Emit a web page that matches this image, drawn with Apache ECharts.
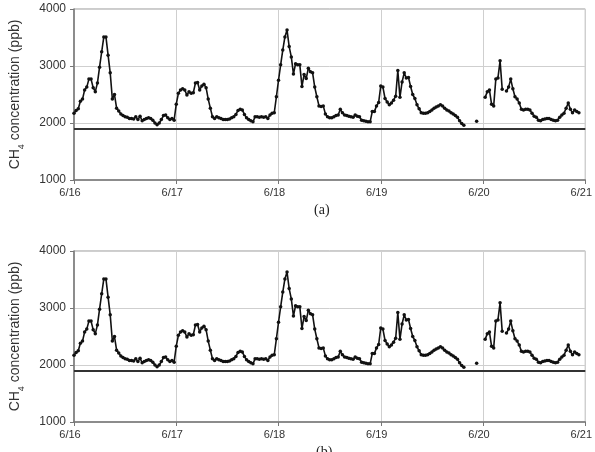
<!DOCTYPE html>
<html>
<head>
<meta charset="utf-8">
<script src="https://cdn.jsdelivr.net/npm/echarts@6/dist/echarts.min.js"></script>
<style>
  html, body { margin: 0; padding: 0; background: #fff; }
  #main { width: 595px; height: 452px; }
</style>
</head>
<body>
<div id="main"></div>
<script>
// tick labels, one per day
var days = ['6/16', '6/17', '6/18', '6/19', '6/20', '6/21'];

// CH4 (ppb), one value every 30 min starting at 00:00 of each day
var ch4Day16 = [2170, 2220, 2250, 2380, 2420, 2580, 2630, 2770, 2770, 2620, 2550, 2700,
  2980, 3250, 3510, 3510, 3190, 2880, 2420, 2500, 2260, 2210, 2160, 2130,
  2110, 2100, 2080, 2080, 2070, 2110, 2060, 2120, 2040, 2060, 2080, 2090,
  2080, 2050, 2000, 1970, 2000, 2060, 2130, 2140, 2090, 2060, 2080, 2050];
var ch4Day17 = [2330, 2520, 2580, 2600, 2580, 2490, 2550, 2520, 2530, 2700, 2710, 2580,
  2650, 2680, 2620, 2420, 2260, 2110, 2080, 2110, 2090, 2080, 2060, 2060,
  2060, 2070, 2090, 2110, 2150, 2220, 2240, 2230, 2150, 2090, 2060, 2040,
  2020, 2110, 2110, 2100, 2110, 2100, 2110, 2080, 2140, 2170, 2180, 2460];
var ch4Day18 = [2750, 3020, 3280, 3510, 3630, 3340, 3160, 2860, 3040, 3020, 3020, 2640,
  2850, 2780, 2960, 2900, 2880, 2630, 2460, 2300, 2290, 2300, 2160, 2110,
  2090, 2090, 2110, 2130, 2140, 2240, 2180, 2140, 2130, 2120, 2110, 2100,
  2140, 2120, 2110, 2050, 2040, 2030, 2020, 2020, 2200, 2200, 2300, 2360];
var ch4Day19 = [2650, 2630, 2430, 2370, 2320, 2350, 2400, 2470, 2920, 2450, 2720, 2880,
  2790, 2800, 2640, 2500, 2430, 2320, 2250, 2180, 2170, 2170, 2180, 2200,
  2230, 2260, 2280, 2300, 2320, 2300, 2260, 2230, 2210, 2180, 2160, 2130,
  2100, 2040, 1990, 1960, null, null, null, null, null, 2030, null, null];
var ch4Day20 = [null, 2450, 2550, 2580, 2330, 2300, 2770, 2790, 3090, 2590, null, 2560,
  2630, 2770, 2600, 2460, 2420, 2350, 2240, 2230, 2240, 2240, 2230, 2170,
  2120, 2100, 2050, 2040, 2060, 2070, 2080, 2080, 2060, 2050, 2040, 2050,
  2100, 2140, 2170, 2260, 2350, 2240, 2180, 2230, 2200, 2180];

var background = 1900;

var ch4 = ch4Day16.concat(ch4Day17, ch4Day18, ch4Day19, ch4Day20);
var points = ch4.map(function (v, i) { return [i * 0.5, v]; });

var FONT = 'Arial, "Liberation Sans", sans-serif';

var myChart = echarts.init(document.getElementById('main'));

function xAxisOf(idx) {
  return {
    type: 'value', gridIndex: idx, min: 0, max: 120, interval: 24,
    axisLine: { lineStyle: { color: '#777', width: 1.5 } },
    axisTick: { show: true, length: 4, lineStyle: { color: '#777' } },
    axisLabel: {
      color: '#333', fontFamily: FONT, fontSize: 11, margin: 7,
      padding: [0, 8, 0, 0],
      formatter: function (v) { return days[Math.round(v / 24)]; }
    },
    splitLine: { show: true, lineStyle: { color: '#cfcfcf' } }
  };
}

function yAxisOf(idx) {
  return {
    type: 'value', gridIndex: idx, min: 1000, max: 4000, interval: 1000,
    name: 'CH{sub|4} concentration (ppb)',
    nameLocation: 'middle', nameRotate: 90, nameGap: 52,
    nameTextStyle: {
      color: '#333', fontFamily: FONT, fontSize: 14,
      rich: { sub: { fontFamily: FONT, fontSize: 9, verticalAlign: 'bottom', padding: [0, 0, -4, 0], color: '#333' } }
    },
    axisLine: { show: true, lineStyle: { color: '#777', width: 1.5 } },
    axisTick: { show: true, length: 4, lineStyle: { color: '#777' } },
    axisLabel: {
      color: '#333', fontFamily: FONT, fontSize: 12, margin: 8,
      formatter: function (v) { return String(v); }
    },
    splitLine: { show: true, lineStyle: { color: '#cfcfcf' } }
  };
}

function seriesOf(idx) {
  return {
    type: 'line', xAxisIndex: idx, yAxisIndex: idx,
    data: points, connectNulls: false,
    symbol: 'circle', symbolSize: 3.5, showAllSymbol: true,
    lineStyle: { color: '#111', width: 1.6 },
    itemStyle: { color: '#111' },
    markLine: {
      silent: true, symbol: ['none', 'none'], animation: false,
      label: { show: false },
      lineStyle: { color: '#333', width: 2, type: 'solid' },
      data: [{ yAxis: background }]
    }
  };
}

var option = {
  animation: false,
  grid: [
    { left: 74, right: 6, top: 9, height: 171, show: true, borderColor: '#999', borderWidth: 1 },
    { left: 74, right: 6, top: 251, height: 171, show: true, borderColor: '#999', borderWidth: 1 }
  ],
  xAxis: [xAxisOf(0), xAxisOf(1)],
  yAxis: [yAxisOf(0), yAxisOf(1)],
  series: [seriesOf(0), seriesOf(1)],
  graphic: [
    { type: 'text', left: 314, top: 203,
      style: { text: '(a)', fontFamily: '"Liberation Serif", serif', fontSize: 14, fill: '#222' } },
    { type: 'text', left: 316, top: 445,
      style: { text: '(b)', fontFamily: '"Liberation Serif", serif', fontSize: 14, fill: '#222' } }
  ]
};

myChart.setOption(option);
</script>
</body>
</html>
